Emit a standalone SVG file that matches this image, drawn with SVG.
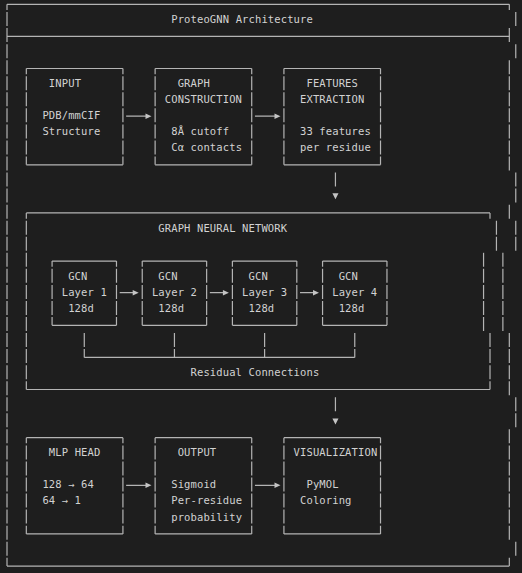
<svg xmlns="http://www.w3.org/2000/svg" width="522" height="573" viewBox="0 0 522 573">
<style>
.ln{stroke:#b4b4b4;stroke-width:1.2;fill:none}
.vd{stroke-dasharray:14 2.05}
.vc{stroke-dasharray:14 2.05;stroke-dashoffset:8.3}
.ah{fill:#c4c4c4;stroke:none}
text{font-family:"DejaVu Sans Mono","Liberation Mono",monospace;font-size:10.5px;letter-spacing:0.12px;fill:#d2d2d2}
</style>
<rect width="522" height="573" fill="#1e1e1e"/>
<g id="frame">
<path class="ln" d="M7 4.3H509.32M7 36.4H509.32M7 566.05H509.32"/>
<line class="ln vc" x1="7" y1="4.3" x2="7" y2="566.05"/>
<path class="ln" d="M509.32 4.3V10M515.76 12.05V26.05M509.32 28.1V42.1M515.76 44.15V58.15M509.32 204.65V218.65M515.76 541.7V555.7M509.32 557.75V566.05"/>
<line class="ln vd" x1="509.32" y1="60.2" x2="509.32" y2="170.5"/>
<line class="ln vd" x1="515.76" y1="172.55" x2="515.76" y2="202.6"/>
<line class="ln vd" x1="515.76" y1="220.7" x2="515.76" y2="250.75"/>
<line class="ln vd" x1="502.88" y1="252.8" x2="502.88" y2="331"/>
<line class="ln vd" x1="509.32" y1="333.05" x2="509.32" y2="395.2"/>
<line class="ln vd" x1="515.76" y1="397.25" x2="515.76" y2="427.3"/>
<line class="ln vd" x1="509.32" y1="429.35" x2="509.32" y2="539.65"/>
<text x="171.22" y="22.95">ProteoGNN Architecture</text>
</g>
<g id="input">
<path class="ln" d="M26.32 68.5H122.92M26.32 164.8H122.92"/>
<line class="ln vc" x1="26.32" y1="68.5" x2="26.32" y2="164.8"/>
<line class="ln vc" x1="122.92" y1="68.5" x2="122.92" y2="164.8"/>
<text x="48.86" y="87.15">INPUT</text>
<text x="42.42" y="119.25">PDB/mmCIF</text>
<text x="42.42" y="135.3">Structure</text>
</g>
<g id="graph">
<path class="ln" d="M155.12 68.5H251.72M155.12 164.8H251.72"/>
<line class="ln vc" x1="155.12" y1="68.5" x2="155.12" y2="164.8"/>
<line class="ln vc" x1="251.72" y1="68.5" x2="251.72" y2="164.8"/>
<text x="177.66" y="87.15">GRAPH</text>
<text x="164.78" y="103.2">CONSTRUCTION</text>
<text x="171.22" y="135.3">8Å cutoff</text>
<text x="171.22" y="151.35">Cα contacts</text>
</g>
<g id="features">
<path class="ln" d="M283.92 68.5H380.52M283.92 164.8H380.52"/>
<line class="ln vc" x1="283.92" y1="68.5" x2="283.92" y2="164.8"/>
<line class="ln vc" x1="380.52" y1="68.5" x2="380.52" y2="164.8"/>
<text x="306.46" y="87.15">FEATURES</text>
<text x="300.02" y="103.2">EXTRACTION</text>
<text x="300.02" y="135.3">33 features</text>
<text x="300.02" y="151.35">per residue</text>
</g>
<g id="gnn">
<path class="ln" d="M26.32 212.95H490M26.32 389.5H490"/>
<line class="ln vc" x1="26.32" y1="212.95" x2="26.32" y2="389.5"/>
<path class="ln" d="M490 212.95V218.65"/>
<line class="ln vd" x1="496.44" y1="220.7" x2="496.44" y2="250.75"/>
<line class="ln vd" x1="483.56" y1="252.8" x2="483.56" y2="331"/>
<line class="ln vd" x1="490" y1="333.05" x2="490" y2="389.5"/>
<text x="158.34" y="231.6">GRAPH NEURAL NETWORK</text>
<text x="190.54" y="376.05">Residual Connections</text>
</g>
<g id="gcn1">
<path class="ln" d="M52.08 261.1H116.48M52.08 325.3H116.48"/>
<line class="ln vc" x1="52.08" y1="261.1" x2="52.08" y2="325.3"/>
<line class="ln vc" x1="116.48" y1="261.1" x2="116.48" y2="325.3"/>
<text x="68.18" y="279.75">GCN</text>
<text x="61.74" y="295.8">Layer 1</text>
<text x="68.18" y="311.85">128d</text>
</g>
<g id="gcn2">
<path class="ln" d="M142.24 261.1H206.64M142.24 325.3H206.64"/>
<line class="ln vc" x1="142.24" y1="261.1" x2="142.24" y2="325.3"/>
<line class="ln vc" x1="206.64" y1="261.1" x2="206.64" y2="325.3"/>
<text x="158.34" y="279.75">GCN</text>
<text x="151.9" y="295.8">Layer 2</text>
<text x="158.34" y="311.85">128d</text>
</g>
<g id="gcn3">
<path class="ln" d="M232.4 261.1H296.8M232.4 325.3H296.8"/>
<line class="ln vc" x1="232.4" y1="261.1" x2="232.4" y2="325.3"/>
<line class="ln vc" x1="296.8" y1="261.1" x2="296.8" y2="325.3"/>
<text x="248.5" y="279.75">GCN</text>
<text x="242.06" y="295.8">Layer 3</text>
<text x="248.5" y="311.85">128d</text>
</g>
<g id="gcn4">
<path class="ln" d="M322.56 261.1H386.96M322.56 325.3H386.96"/>
<line class="ln vc" x1="322.56" y1="261.1" x2="322.56" y2="325.3"/>
<line class="ln vc" x1="386.96" y1="261.1" x2="386.96" y2="325.3"/>
<text x="338.66" y="279.75">GCN</text>
<text x="332.22" y="295.8">Layer 4</text>
<text x="338.66" y="311.85">128d</text>
</g>
<g id="mlp">
<path class="ln" d="M26.32 437.65H122.92M26.32 533.95H122.92"/>
<line class="ln vc" x1="26.32" y1="437.65" x2="26.32" y2="533.95"/>
<line class="ln vc" x1="122.92" y1="437.65" x2="122.92" y2="533.95"/>
<text x="48.86" y="456.3">MLP HEAD</text>
<text x="42.42" y="488.4">128 → 64</text>
<text x="42.42" y="504.45">64 → 1</text>
</g>
<g id="output">
<path class="ln" d="M155.12 437.65H251.72M155.12 533.95H251.72"/>
<line class="ln vc" x1="155.12" y1="437.65" x2="155.12" y2="533.95"/>
<line class="ln vc" x1="251.72" y1="437.65" x2="251.72" y2="533.95"/>
<text x="177.66" y="456.3">OUTPUT</text>
<text x="171.22" y="488.4">Sigmoid</text>
<text x="171.22" y="504.45">Per-residue</text>
<text x="171.22" y="520.5">probability</text>
</g>
<g id="visualization">
<path class="ln" d="M283.92 437.65H380.52M283.92 533.95H380.52"/>
<line class="ln vc" x1="283.92" y1="437.65" x2="283.92" y2="533.95"/>
<line class="ln vc" x1="380.52" y1="437.65" x2="380.52" y2="533.95"/>
<text x="293.58" y="456.3">VISUALIZATION</text>
<text x="306.46" y="488.4">PyMOL</text>
<text x="300.02" y="504.45">Coloring</text>
</g>
<g id="connectors">
<path class="ln" d="M126.14 116.15H146.5M254.94 116.15H275.5M126.14 485.3H146.5M254.94 485.3H275.5M119.7 292.7H133.7M209.86 292.7H223.9M300.02 292.7H314"/>
<path class="ah" d="M145.5 113.4L151.5 116.15L145.5 118.9ZM274.5 113.4L280.5 116.15L274.5 118.9ZM145.5 482.55L151.5 485.3L145.5 488.05ZM274.5 482.55L280.5 485.3L274.5 488.05ZM132.7 289.95L138.7 292.7L132.7 295.45ZM222.9 289.95L228.9 292.7L222.9 295.45ZM313 289.95L319 292.7L313 295.45Z"/>
<path class="ln" d="M335.44 172.55V186.55M335.44 397.25V411.25"/>
<path class="ah" d="M332.4 193.3H338.5L335.44 199.3ZM332.4 418.5H338.5L335.44 424.5Z"/>
<path class="ln" d="M84.28 357.4H354.76"/>
<line class="ln vd" x1="84.28" y1="333.05" x2="84.28" y2="357.4"/>
<line class="ln vd" x1="174.44" y1="333.05" x2="174.44" y2="357.4"/>
<line class="ln vd" x1="264.6" y1="333.05" x2="264.6" y2="357.4"/>
<line class="ln vd" x1="354.76" y1="333.05" x2="354.76" y2="357.4"/>
</g>
</svg>
